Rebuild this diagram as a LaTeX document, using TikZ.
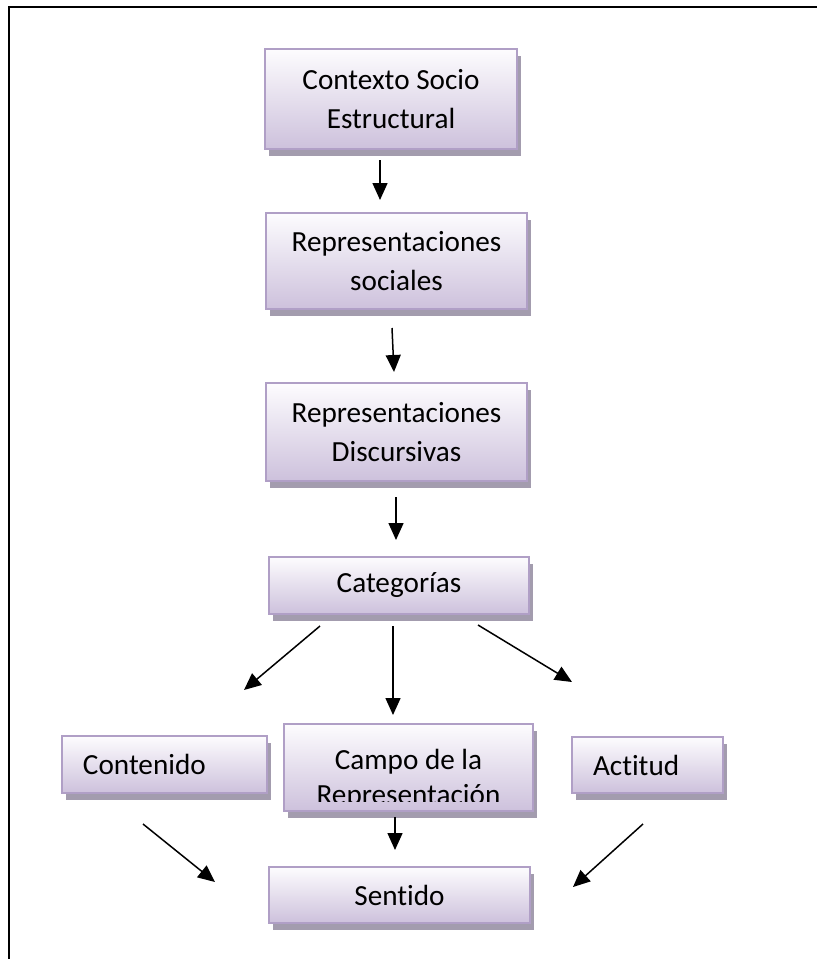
\documentclass[tikz,border=0pt]{standalone}
\usepackage{fontspec}
\setmainfont{Carlito}[Ligatures=NoCommon]
\usepackage{tikz}
\usetikzlibrary{arrows.meta,shadows}
\definecolor{edge}{HTML}{B09FC6}
\definecolor{topfill}{HTML}{FDFCFE}
\definecolor{botfill}{HTML}{CDC1DC}
\definecolor{shade}{HTML}{A39CAE}
\tikzset{
  box/.style={draw=edge, line width=1pt, top color=topfill, bottom color=botfill,
    font=\fontsize{14.6}{19.5}\selectfont, align=center, inner sep=0pt,
    drop shadow={shadow xshift=2pt, shadow yshift=-3.25pt, fill=shade, opacity=1}},
  leftbox/.style={box, align=left, inner xsep=10.5pt},
  flow/.style={draw=black, line width=0.75pt, -{Triangle[length=8.5pt,width=7.5pt]}},
  frame/.style={draw=black, line width=1pt}
}

\begin{document}
\begin{tikzpicture}[x=0.5pt, y=-0.5pt]
  \useasboundingbox (0,0) rectangle (817,959);
  \draw[frame] (9,959) -- (9,7) -- (817,7);

  \node[box, minimum width=126pt, minimum height=50pt] (ctx) at (391,99) {Contexto Socio\\Estructural};
  \node[box, minimum width=130.5pt, minimum height=48pt] (rsoc) at (396.5,261) {Representaciones\\sociales};
  \node[box, minimum width=130.5pt, minimum height=49pt] (rdis) at (396.5,432) {Representaciones\\Discursivas};
  \node[box, minimum width=130pt, minimum height=28.5pt] (cat) at (399,585.5) {Categorías};
  \node[leftbox, text width=81.5pt, minimum height=28.5pt] (cont) at (164.5,764.5) {Contenido};
  \node[box, minimum width=124.5pt, minimum height=43.5pt] (campo) at (408.5,767.5) {};
  \begin{scope}
    \clip (284,724) rectangle (533,801);
    \node[font=\fontsize{14.6}{17.5}\selectfont, align=center, inner sep=0pt] (campotxt) at (408.5,779) {Campo de la\\Representación};
  \end{scope}
  \node[leftbox, text width=54.5pt, minimum height=28pt] (act) at (647.5,765) {Actitud};
  \node[box, minimum width=130.5pt, minimum height=28pt] (sent) at (399.5,895) {Sentido};

  \coordinate (ctx-out) at (380,160);   \coordinate (rsoc-in) at (380,200);
  \coordinate (rsoc-out) at (392,328);  \coordinate (rdis-in) at (394,372);
  \coordinate (rdis-out) at (396,497);  \coordinate (cat-in) at (396,540);
  \coordinate (cat-l) at (320,626);     \coordinate (cont-in) at (244,690);
  \coordinate (cat-m) at (393,626);     \coordinate (campo-in) at (393,715);
  \coordinate (cat-r) at (478,625);     \coordinate (act-in) at (572,682);
  \coordinate (cont-out) at (143,824);  \coordinate (sent-l) at (215,882);
  \coordinate (campo-out) at (395,817); \coordinate (sent-m) at (395,850);
  \coordinate (act-out) at (643,824);   \coordinate (sent-r) at (573,887);

  \draw[flow] (ctx-out) -- (rsoc-in);
  \draw[flow] (rsoc-out) -- (rdis-in);
  \draw[flow] (rdis-out) -- (cat-in);
  \draw[flow] (cat-l) -- (cont-in);
  \draw[flow] (cat-m) -- (campo-in);
  \draw[flow] (cat-r) -- (act-in);
  \draw[flow] (cont-out) -- (sent-l);
  \draw[flow] (campo-out) -- (sent-m);
  \draw[flow] (act-out) -- (sent-r);
\end{tikzpicture}
\end{document}
